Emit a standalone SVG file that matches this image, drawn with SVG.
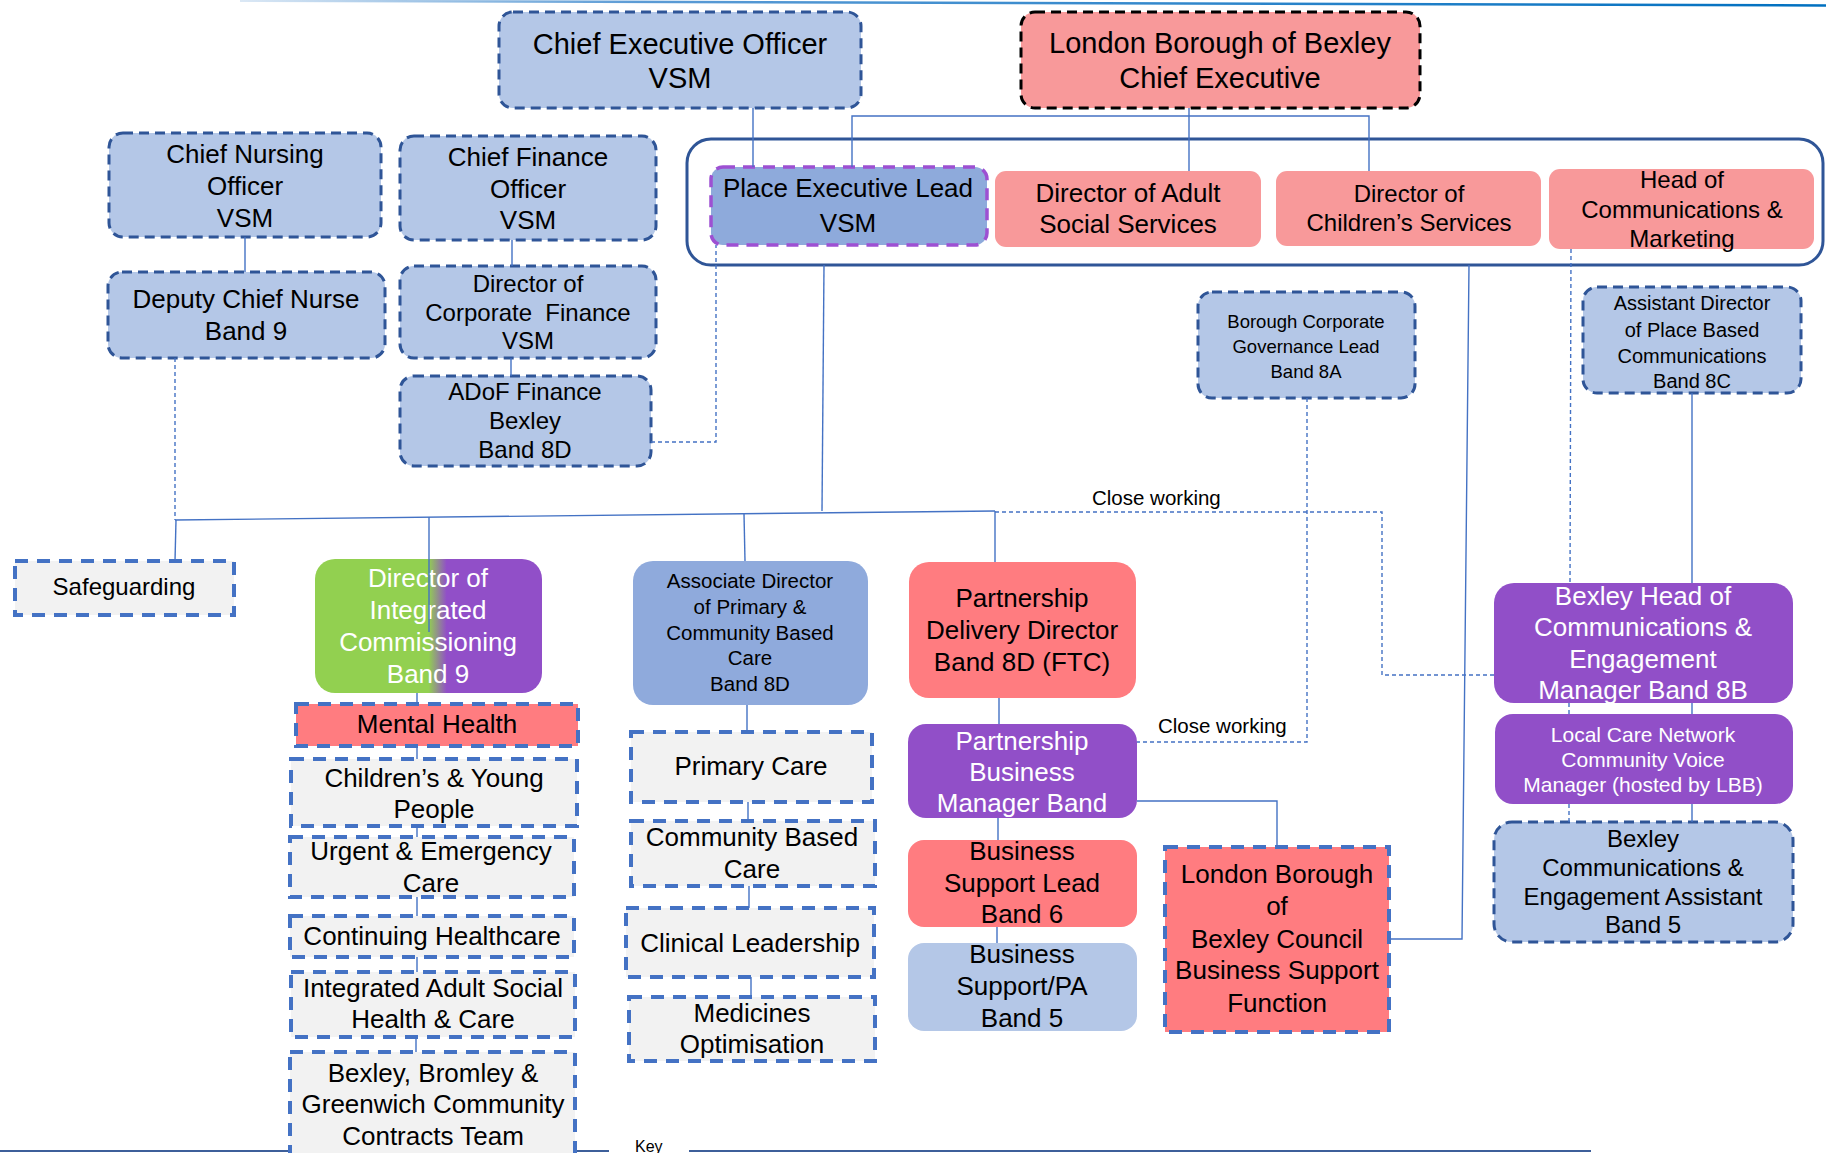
<svg xmlns="http://www.w3.org/2000/svg" width="1826" height="1153" viewBox="0 0 1826 1153">
<defs>
<linearGradient id="topline" x1="0" y1="0" x2="1" y2="0">
<stop offset="0" stop-color="#dbe8f5"/>
<stop offset="0.25" stop-color="#5b9bd5"/>
<stop offset="1" stop-color="#0070c0"/>
</linearGradient>
<linearGradient id="gp" x1="0" y1="0" x2="1" y2="0">
<stop offset="0.5" stop-color="#92d050"/>
<stop offset="0.58" stop-color="#914fc8"/>
</linearGradient>
<clipPath id="clipBH"><rect x="1494" y="583" width="299" height="120" rx="20"/></clipPath>
</defs>
<style>
text{font-family:"Liberation Sans",Arial,sans-serif;text-anchor:middle;fill:#000}
.w{fill:#fff}
.s29{font-size:29px}.s26{font-size:26px}.s24{font-size:24px}.s21{font-size:21px}.s20{font-size:20px}.s19{font-size:18.5px}
.bl{fill:#b4c7e7;stroke:#2f5597;stroke-width:3;stroke-dasharray:10 6}
.bk{fill:#f8999a;stroke:#000;stroke-width:3;stroke-dasharray:10 6}
.pe{fill:#8eaadb;stroke:#9d50d2;stroke-width:3.5;stroke-dasharray:12 8}
.gr{fill:#f2f2f2;stroke:#4472c4;stroke-width:4;stroke-dasharray:13 9}
.rg{fill:#ff7c80;stroke:#4472c4;stroke-width:4;stroke-dasharray:13 9}
.pk{fill:#f8999a}
.rd{fill:#ff7c80}
.pu{fill:#914fc8}
.ab{fill:#8faadc}
.lb{fill:#b4c7e7}
.c{stroke:#4472c4;stroke-width:1.4;fill:none}
.d{stroke:#4472c4;stroke-width:1.4;fill:none;stroke-dasharray:4 3}
.cw{font-size:20.5px;text-anchor:start}
</style>

<g id="frame">
<line x1="240" y1="0.8" x2="1826" y2="5.5" stroke="url(#topline)" stroke-width="2.5"/>
<line x1="0" y1="1151" x2="609" y2="1151" stroke="#3d5f9a" stroke-width="2"/>
<line x1="689" y1="1151" x2="1591" y2="1151" stroke="#3d5f9a" stroke-width="2"/>
<text x="635" y="1152" style="font-size:16px;text-anchor:start">Key</text>
<rect id="place-team" x="687" y="139" width="1136" height="126" rx="24" fill="none" stroke="#2f5597" stroke-width="3"/>
</g>

<g id="nodes">
<g id="ceo"><rect class="bl" x="499" y="12" width="362" height="96" rx="14"/>
<text class="s29" x="680" y="54">Chief Executive Officer</text><text class="s29" x="680" y="88">VSM</text></g>

<g id="lbb-ce"><rect class="bk" x="1021" y="12" width="399" height="96" rx="14"/>
<text class="s29" x="1220" y="53">London Borough of Bexley</text><text class="s29" x="1220" y="88">Chief Executive</text></g>

<g id="cno"><rect class="bl" x="109" y="133" width="272" height="104" rx="14"/>
<text class="s26" x="245" y="163">Chief Nursing</text><text class="s26" x="245" y="195">Officer</text><text class="s26" x="245" y="227">VSM</text></g>

<g id="cfo"><rect class="bl" x="400" y="136" width="256" height="104" rx="14"/>
<text class="s26" x="528" y="166">Chief Finance</text><text class="s26" x="528" y="198">Officer</text><text class="s26" x="528" y="229">VSM</text></g>

<g id="place-exec"><rect class="pe" x="711" y="167" width="276" height="78" rx="12"/>
<text class="s26" x="848" y="197">Place Executive Lead</text><text class="s26" x="848" y="232">VSM</text></g>

<g id="dass"><rect class="pk" x="995" y="171" width="266" height="76" rx="11"/>
<text class="s26" x="1128" y="202">Director of Adult</text><text class="s26" x="1128" y="233">Social Services</text></g>

<g id="dcs"><rect class="pk" x="1276" y="171" width="265" height="75" rx="11"/>
<text class="s24" x="1409" y="202">Director of</text><text class="s24" x="1409" y="231">Children’s Services</text></g>

<g id="head-comms"><rect class="pk" x="1549" y="169" width="265" height="80" rx="11"/>
<text class="s24" x="1682" y="188">Head of</text><text class="s24" x="1682" y="218">Communications &amp;</text><text class="s24" x="1682" y="247">Marketing</text></g>

<g id="deputy-cn"><rect class="bl" x="108" y="272" width="277" height="86" rx="14"/>
<text class="s26" x="246" y="308">Deputy Chief Nurse</text><text class="s26" x="246" y="340">Band 9</text></g>

<g id="dcf"><rect class="bl" x="400" y="266" width="256" height="92" rx="14"/>
<text class="s24" x="528" y="292">Director of</text><text class="s24" x="528" y="321" xml:space="preserve">Corporate  Finance</text><text class="s24" x="528" y="349">VSM</text></g>

<g id="adof"><rect class="bl" x="400" y="376" width="251" height="90" rx="14"/>
<text class="s24" x="525" y="400">ADoF Finance</text><text class="s24" x="525" y="429">Bexley</text><text class="s24" x="525" y="458">Band 8D</text></g>

<g id="bcgl"><rect class="bl" x="1198" y="292" width="217" height="106" rx="14"/>
<text class="s19" x="1306" y="328">Borough Corporate</text><text class="s19" x="1306" y="353">Governance Lead</text><text class="s19" x="1306" y="378">Band 8A</text></g>

<g id="adpbc"><rect class="bl" x="1583" y="287" width="218" height="106" rx="14"/>
<text class="s20" x="1692" y="310">Assistant Director</text><text class="s20" x="1692" y="337">of Place Based</text><text class="s20" x="1692" y="363">Communications</text><text class="s20" x="1692" y="388">Band 8C</text></g>

<g id="safeguarding"><rect class="gr" x="15" y="561" width="219" height="54"/>
<text class="s24" x="124" y="595">Safeguarding</text></g>

<g id="dic"><rect x="315" y="559" width="227" height="134" rx="20" fill="url(#gp)"/>
<text class="s26 w" x="428" y="587">Director of</text><text class="s26 w" x="428" y="619">Integrated</text><text class="s26 w" x="428" y="651">Commissioning</text><text class="s26 w" x="428" y="683">Band 9</text></g>

<g id="adpcbc"><rect class="ab" x="633" y="561" width="235" height="144" rx="20"/>
<text x="750" y="588" style="font-size:20.5px">Associate Director</text><text x="750" y="614" style="font-size:20.5px">of Primary &amp;</text><text x="750" y="640" style="font-size:20.5px">Community Based</text><text x="750" y="665" style="font-size:20.5px">Care</text><text x="750" y="691" style="font-size:20.5px">Band 8D</text></g>

<g id="pdd"><rect class="rd" x="909" y="562" width="227" height="136" rx="20"/>
<text class="s26" x="1022" y="607">Partnership</text><text class="s26" x="1022" y="639">Delivery Director</text><text class="s26" x="1022" y="671">Band 8D (FTC)</text></g>

<g id="bexley-head"><rect class="pu" x="1494" y="583" width="299" height="120" rx="20"/>
<g clip-path="url(#clipBH)"><text class="s26 w" x="1643" y="605">Bexley Head of</text><text class="s26 w" x="1643" y="636">Communications &amp;</text><text class="s26 w" x="1643" y="668">Engagement</text><text class="s26 w" x="1643" y="699">Manager Band 8B</text></g></g>

<g id="lcn"><rect class="pu" x="1495" y="714" width="298" height="90" rx="18"/>
<text class="s21 w" x="1643" y="742">Local Care Network</text><text class="s21 w" x="1643" y="767">Community Voice</text><text class="s21 w" x="1643" y="792">Manager (hosted by LBB)</text></g>

<g id="bcea"><rect class="bl" x="1494" y="822" width="299" height="120" rx="18"/>
<text class="s24" x="1643" y="847">Bexley</text><text class="s24" x="1643" y="876">Communications &amp;</text><text class="s24" x="1643" y="905">Engagement Assistant</text><text class="s24" x="1643" y="933">Band 5</text></g>

<g id="pbm"><rect class="pu" x="908" y="724" width="229" height="94" rx="18"/>
<text class="s26 w" x="1022" y="750">Partnership</text><text class="s26 w" x="1022" y="781">Business</text><text class="s26 w" x="1022" y="812">Manager Band</text></g>

<g id="bsl"><rect class="rd" x="908" y="840" width="229" height="87" rx="16"/>
<text class="s26" x="1022" y="860">Business</text><text class="s26" x="1022" y="892">Support Lead</text><text class="s26" x="1022" y="923">Band 6</text></g>

<g id="bspa"><rect class="lb" x="908" y="943" width="229" height="88" rx="16"/>
<text class="s26" x="1022" y="963">Business</text><text class="s26" x="1022" y="995">Support/PA</text><text class="s26" x="1022" y="1027">Band 5</text></g>

<g id="lbb-council"><rect class="rg" x="1165" y="847" width="224" height="185"/>
<text class="s26" x="1277" y="883">London Borough</text><text class="s26" x="1277" y="915">of</text><text class="s26" x="1277" y="948">Bexley Council</text><text class="s26" x="1277" y="979">Business Support</text><text class="s26" x="1277" y="1012">Function</text></g>

<g id="mental-health"><rect class="rg" x="296" y="704" width="282" height="42"/>
<text class="s26" x="437" y="733">Mental Health</text></g>

<g id="cyp"><rect class="gr" x="291" y="759" width="286" height="67"/>
<text class="s26" x="434" y="787">Children’s &amp; Young</text><text class="s26" x="434" y="818">People</text></g>

<g id="uec"><rect class="gr" x="290" y="837" width="284" height="60"/>
<text class="s26" x="431" y="860">Urgent &amp; Emergency</text><text class="s26" x="431" y="892">Care</text></g>

<g id="chc"><rect class="gr" x="290" y="916" width="284" height="41"/>
<text class="s26" x="432" y="945">Continuing Healthcare</text></g>

<g id="iashc"><rect class="gr" x="291" y="972" width="284" height="65"/>
<text class="s26" x="433" y="997">Integrated Adult Social</text><text class="s26" x="433" y="1028">Health &amp; Care</text></g>

<g id="bbg"><rect class="gr" x="290" y="1052" width="285" height="120"/>
<text class="s26" x="433" y="1082">Bexley, Bromley &amp;</text><text class="s26" x="433" y="1113">Greenwich Community</text><text class="s26" x="433" y="1145">Contracts Team</text></g>

<g id="primary-care"><rect class="gr" x="631" y="732" width="241" height="70"/>
<text class="s26" x="751" y="775">Primary Care</text></g>

<g id="cbc"><rect class="gr" x="631" y="821" width="244" height="65"/>
<text class="s26" x="752" y="846">Community Based</text><text class="s26" x="752" y="878">Care</text></g>

<g id="clinical"><rect class="gr" x="626" y="908" width="248" height="69"/>
<text class="s26" x="750" y="952">Clinical Leadership</text></g>

<g id="medicines"><rect class="gr" x="629" y="997" width="246" height="64"/>
<text class="s26" x="752" y="1022">Medicines</text><text class="s26" x="752" y="1053">Optimisation</text></g>
</g>

<g id="connectors">
<line class="c" x1="753" y1="108" x2="753" y2="167"/>
<polyline class="c" points="852,167 852,116 1369,116 1369,171"/>
<line class="c" x1="1189" y1="108" x2="1189" y2="171"/>
<line class="c" x1="245" y1="237" x2="245" y2="272"/>
<line class="c" x1="512" y1="240" x2="512" y2="266"/>
<line class="c" x1="511" y1="358" x2="511" y2="376"/>
<polyline class="d" points="651,442 716,442 716,245"/>
<line class="d" x1="175" y1="358" x2="175" y2="520"/>
<line class="c" x1="824" y1="265" x2="822" y2="511"/>
<line class="c" x1="175" y1="520" x2="995" y2="511"/>
<line class="c" x1="176" y1="520" x2="175" y2="561"/>
<line class="c" x1="429" y1="517" x2="429" y2="632"/>
<line class="c" x1="744" y1="514" x2="745" y2="561"/>
<line class="c" x1="995" y1="511" x2="995" y2="562"/>
<polyline class="d" points="995,512 1382,512 1382,675 1494,675"/>
<polyline class="d" points="1307,398 1307,742 1137,742"/>
<line class="c" x1="999" y1="698" x2="999" y2="724"/>
<line class="c" x1="998" y1="818" x2="998" y2="840"/>
<line class="c" x1="997" y1="927" x2="997" y2="943"/>
<polyline class="c" points="1137,801 1277,801 1277,847"/>
<polyline class="c" points="1469,265 1462,939 1389,939"/>
<line class="c" x1="1692" y1="393" x2="1692" y2="583"/>
<line class="c" x1="1692" y1="703" x2="1692" y2="714"/>
<line class="c" x1="1692" y1="804" x2="1692" y2="822"/>
<line class="d" x1="1571" y1="249" x2="1570" y2="583"/>
<line class="d" x1="1569" y1="703" x2="1569" y2="714"/>
<line class="d" x1="1569" y1="804" x2="1569" y2="822"/>
<line class="c" x1="417" y1="693" x2="417" y2="704"/>
<line class="c" x1="417" y1="746" x2="417" y2="759"/>
<line class="c" x1="417" y1="826" x2="417" y2="837"/>
<line class="c" x1="417" y1="897" x2="417" y2="916"/>
<line class="c" x1="417" y1="957" x2="417" y2="972"/>
<line class="c" x1="416" y1="1037" x2="416" y2="1052"/>
<line class="c" x1="747" y1="705" x2="747" y2="732"/>
<line class="c" x1="748" y1="802" x2="748" y2="821"/>
<line class="c" x1="749" y1="886" x2="749" y2="908"/>
<line class="c" x1="751" y1="977" x2="751" y2="997"/>
<text class="cw" x="1092" y="505">Close working</text>
<text class="cw" x="1158" y="733">Close working</text>
</g>
</svg>
